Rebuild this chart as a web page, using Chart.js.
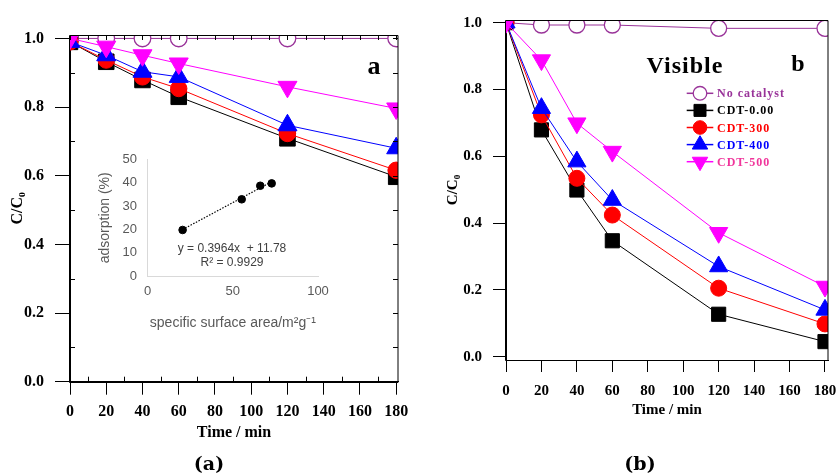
<!DOCTYPE html>
<html><head><meta charset="utf-8">
<script src="https://cdn.jsdelivr.net/npm/chart.js@4.4.0/dist/chart.umd.min.js"></script>
<style>
html,body{margin:0;padding:0;background:#fff;}
#wrap{position:relative;width:837px;height:476px;overflow:hidden;background:#fff;}
canvas{position:absolute;}
.lbl{position:absolute;transform:translate(-50%,-50%);white-space:nowrap;line-height:1;}
.serif{font-family:'Liberation Serif','Times New Roman',serif;font-weight:bold;color:#000;}
.sans{font-family:'Liberation Sans',Arial,sans-serif;color:#404040;font-size:12px;}
</style></head><body>
<div id="wrap">
<canvas id="cA" width="420" height="476" style="left:0;top:0"></canvas>
<canvas id="cIn" width="250" height="195" style="left:90px;top:145px"></canvas>
<canvas id="cB" width="417" height="476" style="left:420px;top:0"></canvas>
<div class="lbl serif" style="left:374px;top:66px;font-size:26px">a</div>
<div class="lbl serif" style="left:685px;top:65px;font-size:24px;letter-spacing:1px">Visible</div>
<div class="lbl serif" style="left:798px;top:63px;font-size:24px">b</div>
<div class="lbl sans" style="left:232px;top:248px">y = 0.3964x &nbsp;+ 11.78</div>
<div class="lbl sans" style="left:232px;top:262px">R² = 0.9929</div>
<div class="lbl" style="left:209px;top:463px;font-family:'DejaVu Serif',serif;font-weight:bold;font-size:19px">(a)</div>
<div class="lbl" style="left:640px;top:463px;font-family:'DejaVu Serif',serif;font-weight:bold;font-size:19px">(b)</div>
</div>
<script>
// ---------- data ----------
const seriesNames = ['No catalyst', 'CDT-0.00', 'CDT-300', 'CDT-400', 'CDT-500'];
const timeTicks = [0, 20, 40, 60, 80, 100, 120, 140, 160, 180];
const ratioTicks = [0, 0.2, 0.4, 0.6, 0.8, 1.0];

const timeA = [0, 20, 40, 60, 120, 180];
const aNoCat = [1.0, 1.0, 1.0, 1.0, 1.0, 1.0];
const aCDT000 = [0.99, 0.932, 0.879, 0.83, 0.709, 0.597];
const aCDT300 = [0.99, 0.937, 0.888, 0.854, 0.723, 0.616];
const aCDT400 = [0.99, 0.951, 0.903, 0.888, 0.747, 0.68];
const aCDT500 = [1.0, 0.976, 0.951, 0.927, 0.859, 0.796];

const timeB = [0, 20, 40, 60, 120, 180];
const bNoCat = [1.0, 0.993, 0.993, 0.993, 0.983, 0.983];
const bCDT000 = [1.0, 0.679, 0.499, 0.347, 0.127, 0.045];
const bCDT300 = [1.0, 0.724, 0.534, 0.424, 0.205, 0.098];
const bCDT400 = [1.0, 0.744, 0.584, 0.469, 0.27, 0.14];
const bCDT500 = [1.0, 0.888, 0.699, 0.614, 0.371, 0.21];

const surfaceArea = [20.5, 55.2, 66.1, 72.8];
const adsorption = [19.8, 32.9, 38.7, 39.7];
const trendX = [20.5, 72.8];
const trendY = [20.0, 40.4];
const insetXTicks = [0, 50, 100];
const insetYTicks = [0, 10, 20, 30, 40, 50];

// ---------- styles ----------
const lineColors = ['#993399', '#000000', '#ff0000', '#0000ff', '#ff00ff'];
const legendTextColors = ['#993399', '#000000', '#ff0000', '#0000ff', '#f0359b'];
const SERIF = "'Liberation Serif','Times New Roman',serif";
const SANS = "'Liberation Sans',Arial,sans-serif";

const pts = (xs, ys) => xs.map((x, i) => ({x: x, y: ys[i]}));
const setTicks = arr => s => { s.ticks = arr.map(v => ({value: v})); };
const fixX = h => s => { s.height = h; s.paddingLeft = 0; s.paddingRight = 0; s.paddingTop = 0; s.paddingBottom = 0; };
const fixY = w => s => { s.width = w; s.paddingLeft = 0; s.paddingRight = 0; s.paddingTop = 0; s.paddingBottom = 0; };

function makeSets(xs, values, sz) {
  const shapes = [
    {pointStyle: 'circle', r: sz.oc, fill: '#ffffff', rot: 0},
    {pointStyle: 'rect', r: sz.sq, fill: lineColors[1], rot: 0},
    {pointStyle: 'circle', r: sz.c, fill: lineColors[2], rot: 0},
    {pointStyle: 'triangle', r: sz.t, fill: lineColors[3], rot: 0},
    {pointStyle: 'triangle', r: sz.t, fill: lineColors[4], rot: 180}
  ];
  return values.map((v, i) => ({
    label: seriesNames[i],
    data: pts(xs, v),
    borderColor: lineColors[i],
    borderWidth: 1,
    pointStyle: shapes[i].pointStyle,
    pointRadius: shapes[i].r,
    pointRotation: shapes[i].rot,
    pointBackgroundColor: shapes[i].fill,
    pointBorderColor: lineColors[i],
    pointBorderWidth: i === 0 ? 1.3 : 1,
    fill: false,
    tension: 0,
    order: 5 - i
  }));
}

// frame + inward minor ticks
const framePlugin = {
  id: 'frame',
  afterDraw(chart, args, opts) {
    if (!opts || !opts.show) return;
    const {ctx, chartArea: a, scales} = chart;
    ctx.save();
    ctx.strokeStyle = '#000';
    ctx.lineWidth = 1;
    ctx.beginPath();
    ctx.rect(Math.round(a.left) - 0.5, Math.round(a.top) + 0.5, Math.round(a.right) - Math.round(a.left) + 0.5, Math.round(a.bottom) - Math.round(a.top));
    ctx.stroke();
    if (opts.xStep) {
      const L = opts.len;
      const xs = scales.x, ys = scales.y;
      ctx.beginPath();
      for (let k = 0; k * opts.xStep <= xs.max; k++) {
        const px = Math.round(xs.getPixelForValue(k * opts.xStep)) + 0.5;
        if (px > a.right - 1) continue;
        if (k % 2 === 1) { ctx.moveTo(px, a.bottom); ctx.lineTo(px, a.bottom - L); }
        ctx.moveTo(px, a.top); ctx.lineTo(px, a.top + L);
      }
      for (let k = 0; k * opts.yStep <= ys.max + 1e-9; k++) {
        const py = Math.round(ys.getPixelForValue(k * opts.yStep)) + 0.5;
        if (k % 2 === 1) { ctx.moveTo(a.left, py); ctx.lineTo(a.left + L, py); }
        ctx.moveTo(a.right, py); ctx.lineTo(a.right - L, py);
      }
      ctx.stroke();
    }
    ctx.restore();
  }
};

// in-plot legend with line + marker
const legendPlugin = {
  id: 'inlineLegend',
  afterDraw(chart, args, opts) {
    if (!opts || !opts.show) return;
    const ctx = chart.ctx;
    chart.data.datasets.forEach((ds, i) => {
      const y = opts.y0 + i * opts.dy;
      const xm = (opts.x0 + opts.x1) / 2;
      ctx.save();
      ctx.strokeStyle = ds.borderColor;
      ctx.lineWidth = 1.5;
      ctx.beginPath(); ctx.moveTo(opts.x0, y); ctx.lineTo(opts.x1, y); ctx.stroke();
      ctx.fillStyle = ds.pointBackgroundColor;
      ctx.strokeStyle = ds.pointBorderColor;
      ctx.lineWidth = ds.pointBorderWidth;
      Chart.helpers.drawPoint(ctx, {pointStyle: ds.pointStyle, rotation: ds.pointRotation || 0, radius: ds.pointRadius * opts.scale, borderWidth: ds.pointBorderWidth}, xm, y);
      ctx.font = opts.font;
      ctx.fillStyle = legendTextColors[i];
      ctx.textBaseline = 'middle';
      ctx.textAlign = 'left';
      try { ctx.letterSpacing = '1px'; } catch (e) {}
      ctx.fillText(ds.label, opts.textX, y + 1);
      ctx.restore();
    });
  }
};

Chart.defaults.color = '#000';
Chart.defaults.animation = false;

function axisX(min, max, h, tickLen, pad, tickSize, titleSize) {
  return {
    type: 'linear', min: min, max: max,
    afterBuildTicks: setTicks(timeTicks), afterFit: fixX(h),
    grid: {drawOnChartArea: false, drawTicks: true, tickLength: tickLen, tickColor: '#000', tickWidth: 1},
    border: {display: true, color: '#000', width: 1},
    ticks: {padding: pad, maxRotation: 0, autoSkip: false, color: '#000', font: {family: SERIF, weight: 'bold', size: tickSize}, callback: v => String(v)},
    title: {display: true, text: 'Time / min', color: '#000', padding: {top: 0, bottom: 0}, font: {family: SERIF, weight: 'bold', size: titleSize}}
  };
}
function axisY(min, max, w, tickLen, pad, tickSize, titleSize, titlePad) {
  return {
    type: 'linear', min: min, max: max,
    afterBuildTicks: setTicks(ratioTicks), afterFit: fixY(w),
    grid: {drawOnChartArea: false, drawTicks: true, tickLength: tickLen, tickColor: '#000', tickWidth: 1},
    border: {display: true, color: '#000', width: 1},
    ticks: {padding: pad, autoSkip: false, color: '#000', font: {family: SERIF, weight: 'bold', size: tickSize}, callback: v => v.toFixed(1)},
    title: {display: true, text: 'C/C₀', color: '#000', padding: {top: titlePad, bottom: 0}, font: {family: SERIF, weight: 'bold', size: titleSize}}
  };
}

// ---------- panel a ----------
new Chart(document.getElementById('cA'), {
  type: 'line',
  data: {datasets: makeSets(timeA, [aNoCat, aCDT000, aCDT300, aCDT400, aCDT500], {oc: 8.3, sq: 11, c: 8.2, t: 11})},
  options: {
    responsive: false, animation: false, events: [],
    layout: {autoPadding: false, padding: {left: 0, top: 35, right: 22, bottom: 33.4}},
    scales: {x: axisX(0, 181, 60.9, 13, 8, 16, 16), y: axisY(0, 1.01, 70, 15, 11, 16, 16, 8.4)},
    plugins: {legend: {display: false}, tooltip: {enabled: false}, frame: {show: true, xStep: 10, yStep: 0.1, len: 5}}
  },
  plugins: [framePlugin]
});

// ---------- inset ----------
new Chart(document.getElementById('cIn'), {
  type: 'scatter',
  data: {datasets: [
    {label: 'adsorption', data: pts(surfaceArea, adsorption), pointRadius: 3.8, pointBackgroundColor: '#000', pointBorderColor: '#000', showLine: false},
    {label: 'linear fit', data: pts(trendX, trendY), pointRadius: 0, showLine: true, borderColor: '#000', borderWidth: 1.2, borderDash: [1.5, 1.5]}
  ]},
  options: {
    responsive: false, animation: false, events: [],
    layout: {autoPadding: false, padding: {left: 0, top: 14.3, right: 22, bottom: 8.9}},
    scales: {
      x: {type: 'linear', min: 0, max: 100, afterBuildTicks: setTicks(insetXTicks), afterFit: fixX(54.8),
        grid: {drawOnChartArea: false, drawTicks: false}, border: {display: true, color: '#d9d9d9', width: 1},
        ticks: {padding: 7.6, color: '#595959', font: {family: SANS, size: 13}},
        title: {display: true, text: 'specific surface area/m²g⁻¹', color: '#595959', padding: {top: 0, bottom: 0}, font: {family: SANS, size: 14}}},
      y: {type: 'linear', min: 0, max: 50, afterBuildTicks: setTicks(insetYTicks), afterFit: fixY(57.7),
        grid: {drawOnChartArea: false, drawTicks: false}, border: {display: true, color: '#d9d9d9', width: 1},
        ticks: {padding: 10.7, color: '#595959', font: {family: SANS, size: 13}},
        title: {display: true, text: 'adsorption (%)', color: '#595959', padding: {top: 6.6, bottom: 0}, font: {family: SANS, size: 14}}}
    },
    plugins: {legend: {display: false}, tooltip: {enabled: false}}
  }
});

// ---------- panel b ----------
new Chart(document.getElementById('cB'), {
  type: 'line',
  data: {datasets: makeSets(timeB, [bNoCat, bCDT000, bCDT300, bCDT400, bCDT500], {oc: 8, sq: 10, c: 8, t: 10.5})},
  options: {
    responsive: false, animation: false, events: [],
    layout: {autoPadding: false, padding: {left: 0, top: 20, right: 9, bottom: 56.9}},
    scales: {x: axisX(0, 181.7, 59.1, 12, 9.7, 15, 15), y: axisY(-0.01, 1.008, 86, 13, 11, 15, 15, 24)},
    plugins: {legend: {display: false}, tooltip: {enabled: false}, frame: {show: true},
      inlineLegend: {show: true, x0: 266.7, x1: 293.3, textX: 297, y0: 93.3, dy: 17.1, scale: 0.85, font: "bold 12px 'Liberation Serif','Times New Roman',serif"}}
  },
  plugins: [framePlugin, legendPlugin]
});
</script>
</body></html>
